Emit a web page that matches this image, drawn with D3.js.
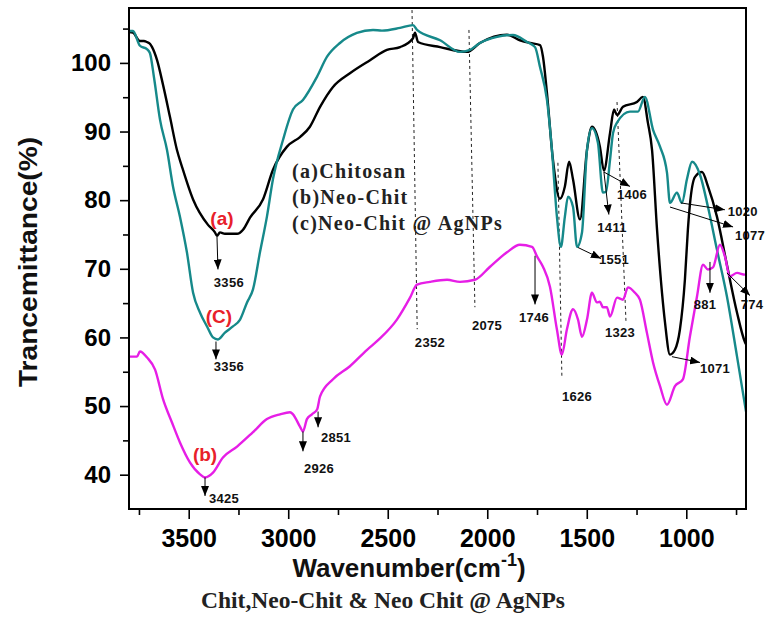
<!DOCTYPE html>
<html>
<head>
<meta charset="utf-8">
<script src="https://cdn.jsdelivr.net/npm/d3@7"></script>
<style>
    body { margin: 0; background: #fff; }
    #ftirChart svg { display: block; }
</style>
</head>
<body>
<div id="ftirChart"></div>
<script>
// (a) Chitosan - black
const chitosanWn = [3800,3780,3745,3725,3710,3695,3684,3659,3629,3594,3559,3534,3478,3403,3368,3358,3343,3318,3257,3227,
    3192,3127,3077,3006,2941,2891,2840,2775,2690,2589,2504,2438,2373,2363,2348,2237,
    2102,2037,1901,1836,1785,1735,1720,1700,1670,1635,1610,1589,1569,1534,1499,1474,1434,1414,1383,1363,
    1348,1318,1248,1218,1193,1172,1147,1122,1107,1082,1057,1032,1007,992,982,956,921,891,846,796,745,705,700];
const chitosanT = [104.5,104.4,103.2,103.2,103.05,102.8,102.3,100.4,96.8,92.1,87.3,84.9,80.1,76.4,75.3,74.8,75.3,75.1,75.1,75.7,
    77.45,80.1,84.4,87.8,89.2,90.7,93.6,96.5,98.5,100.4,101.9,102.3,103.6,104.4,103.05,102.3,
    101.6,102.9,104.1,103.3,102.9,102.6,100.9,95.6,85.9,80.2,82,85.6,83,77.2,87.3,90.7,87.8,84.3,89.8,93.2,
    92.4,93.6,94.3,95.05,91.3,87.3,75.7,66.5,62.2,57.5,58.2,61.15,68.4,75.7,79.3,83.4,84.1,82,77.6,70.6,63.6,59.3,59];

// (b) Neo-Chit - magenta
const neoChitWn = [3800,3760,3745,3710,3669,3629,3584,3544,3494,3443,3418,3378,3328,3257,3177,3107,3041,2991,2976,2941,
    2926,2906,2881,2855,2840,2775,2690,2604,2539,2454,2388,2353,2288,2202,2137,2062,1986,1901,1836,1775,
    1750,1720,1685,1650,1625,1600,1569,1544,1524,1499,1474,1449,1434,1419,1399,1383,1348,1318,1293,1258,
    1233,1198,1167,1132,1097,1057,1017,982,946,916,891,866,831,806,781,745,705,700];
const neoChitT = [57.2,57.2,57.95,57.1,55.3,51,47.6,44.7,41.8,40.05,39.6,40.3,42.5,44.1,46.2,48.1,48.8,49.1,48.8,47,
    46.3,48.1,48.8,49.5,51.4,53.9,55.8,58.2,59.85,62.6,65.8,67.7,68.1,68.4,68.1,68.4,70.3,72.4,73.5,73.2,
    71.8,70.3,67.4,61.15,57.5,61.15,64.1,62.6,60.1,62.6,66.5,65.1,65.2,64.4,64.4,63.05,65.8,65.5,67.3,66.5,
    65.5,60.7,56.35,52.9,50.2,52.9,53.9,60.1,66,70.6,69.9,70.2,73.5,71.8,68.9,69.4,69.15,69.2];

// (c) Neo-Chit @ AgNPs - teal
const neoAgWn = [3800,3780,3745,3710,3695,3674,3644,3609,3579,3544,3509,3478,3443,3408,3378,3353,3318,3278,3242,3207,
    3177,3142,3107,3077,3026,2976,2926,2855,2805,2740,2655,2574,2529,2438,2373,2353,2237,2137,2087,
    2037,1951,1871,1800,1760,1735,1700,1675,1650,1630,1610,1594,1569,1549,1524,1499,1474,1444,1419,1404,
    1383,1368,1348,1283,1243,1208,1167,1132,1097,1082,1047,1022,997,971,931,891,846,796,745,700];
const neoAgT = [104.65,104.65,102.5,102,101.45,97.8,91.7,87.3,82,77.6,72.4,66.5,63.6,61.6,60,59.7,60.7,61.6,62.6,65.1,
    67,72.4,77.6,83,88.8,93.2,94.6,98.0,100.9,102.9,104.36,104.8,104.7,105.1,105.5,104.8,103.3,101.6,101.9,
    102.9,103.8,104.07,103.05,102.3,99.4,94.6,87.3,77.6,73.2,77.6,80.5,79,73.2,75.3,87.3,90.5,88.36,81.1,81.2,
    85.9,89.8,91.3,92.9,92.9,95.05,90.25,87.8,84,79.6,81.1,79.6,83,85.6,83.7,79,72.8,66,57.2,49.2];

const xTicks = [3500, 3000, 2500, 2000, 1500, 1000];
const xMinorTicks = [3750, 3250, 2750, 2250, 1750, 1250, 750];
const yTicks = [40, 50, 60, 70, 80, 90, 100];
const yMinorTicks = [45, 55, 65, 75, 85, 95, 105];

const legendLines = ['(a)Chitosan', '(b)Neo-Chit', '(c)Neo-Chit @ AgNPs'];

// peak arrows: start on the curve, arrow head, label centre
const peakNotes = [
    { label: '3356', from: [3358, 74.7], to: [3353, 69.9], at: [3298, 68.0] },
    { label: '3356', from: [3363, 59.4], to: [3363, 56.8], at: [3298, 55.8] },
    { label: '3425', from: [3418, 39.6], to: [3418, 36.9], at: [3323, 36.6] },
    { label: '2926', from: [2926, 46.3], to: [2926, 43.4], at: [2845, 40.9] },
    { label: '2851', from: [2850, 49.2], to: [2850, 46.9], at: [2760, 45.4] },
    { label: '1746', from: [1760, 71.9], to: [1760, 64.8], at: [1765, 62.9] },
    { label: '1551', from: [1544, 73.1], to: [1429, 71.5], at: [1363, 71.3] },
    { label: '1411', from: [1414, 84.1], to: [1389, 77.9], at: [1373, 76.0] },
    { label: '1406', from: [1414, 84.1], to: [1283, 82.0], at: [1273, 80.8] },
    { label: '1020', from: [1027, 79.6], to: [806, 78.6], at: [716, 78.3] },
    { label: '1077', from: [1082, 79.0], to: [765, 76.1], at: [680, 74.8] },
    { label: '1071', from: [1072, 57.2], to: [931, 56.35], at: [856, 55.5] },
    { label: '881', from: [881, 71.0], to: [881, 66.5], at: [906, 64.8] },
    { label: '774', from: [796, 69.4], to: [680, 66.1], at: [670, 64.8] }
];

// dotted guide lines
const guideNotes = [
    { label: '2352', top: [2378, 107.7], bottom: [2352, 61.2], at: [2288, 59.25] },
    { label: '2075', top: [2092, 104.8], bottom: [2062, 64.4], at: [2001, 61.7] },
    { label: '1626', top: [1645, 85.45], bottom: [1625, 54.2], at: [1549, 51.4] },
    { label: '1323', top: [1348, 94.3], bottom: [1303, 62.3], at: [1333, 60.7] }
];

const curveTags = [
    { label: '(a)', at: [3333, 77.3] },
    { label: '(C)', at: [3348, 63.0] },
    { label: '(b)', at: [3418, 43.0] }
];

class FtirChart {
    constructor() {
        this.width = 766;
        this.height = 619;
        this.left = 129;
        this.right = 746;
        this.top = 8;
        this.bottom = 509;
        this.sansFont = '"Liberation Sans", Arial, sans-serif';
        this.serifFont = '"Liberation Serif", "Times New Roman", serif';

        this.setUpCanvas();
        this.plotGuides();
        this.plotSeries();
        this.plotNotes();
        this.plotAxis();
        this.plotLabels();
    };

    setUpCanvas = () => {
        this.svg = d3.select('#ftirChart')
                    .append('svg')
                    .attr('width', this.width)
                    .attr('height', this.height);

        this.xScale = d3.scaleLinear().domain([3800, 700]).range([this.left, this.right]);
        this.yScale = d3.scaleLinear().domain([35, 108]).range([this.bottom, this.top]);

        this.svg.append('defs').append('marker')
                .attr('id', 'arrowHead')
                .attr('markerUnits', 'userSpaceOnUse')
                .attr('viewBox', '0 0 10 8')
                .attr('refX', 10)
                .attr('refY', 4)
                .attr('markerWidth', 10)
                .attr('markerHeight', 8)
                .attr('orient', 'auto')
                .append('path')
                .attr('d', 'M0,0 L10,4 L0,8 Z')
                .attr('fill', '#000');
    };

    plotGuides = () => {
        this.svg.append('g')
                .selectAll('line')
                .data(guideNotes)
                .enter()
                .append('line')
                .attr('x1', d => this.xScale(d.top[0]))
                .attr('y1', d => this.yScale(d.top[1]))
                .attr('x2', d => this.xScale(d.bottom[0]))
                .attr('y2', d => this.yScale(d.bottom[1]))
                .attr('stroke', '#222')
                .attr('stroke-width', 1)
                .attr('stroke-dasharray', '3,3');
    };

    plotSeries = () => {
        const line = d3.line()
                       .x(d => this.xScale(d[0]))
                       .y(d => this.yScale(d[1]))
                       .curve(d3.curveMonotoneX);

        const series = [
            { wn: chitosanWn, t: chitosanT, color: '#000000' },
            { wn: neoAgWn, t: neoAgT, color: '#16898a' },
            { wn: neoChitWn, t: neoChitT, color: '#e61ee6' }
        ];

        series.forEach(s => {
            this.svg.append('path')
                    .datum(s.wn.map((w, i) => [w, s.t[i]]))
                    .attr('d', line)
                    .attr('fill', 'none')
                    .attr('stroke', s.color)
                    .attr('stroke-width', 2.4)
                    .attr('stroke-linejoin', 'round');
        });
    };

    plotNotes = () => {
        const notes = this.svg.append('g');

        notes.selectAll('line')
             .data(peakNotes)
             .enter()
             .append('line')
             .attr('x1', d => this.xScale(d.from[0]))
             .attr('y1', d => this.yScale(d.from[1]))
             .attr('x2', d => this.xScale(d.to[0]))
             .attr('y2', d => this.yScale(d.to[1]))
             .attr('stroke', '#000')
             .attr('stroke-width', 1)
             .attr('marker-end', 'url(#arrowHead)');

        notes.selectAll('text')
             .data(peakNotes.concat(guideNotes))
             .enter()
             .append('text')
             .text(d => d.label)
             .attr('x', d => this.xScale(d.at[0]))
             .attr('y', d => this.yScale(d.at[1]))
             .attr('dy', '0.35em')
             .attr('text-anchor', 'middle')
             .attr('font-family', this.sansFont)
             .attr('font-weight', 'bold')
             .attr('font-size', 13)
             .attr('letter-spacing', 0.3)
             .attr('fill', '#111');

        this.svg.append('g')
                .selectAll('text')
                .data(curveTags)
                .enter()
                .append('text')
                .text(d => d.label)
                .attr('x', d => this.xScale(d.at[0]))
                .attr('y', d => this.yScale(d.at[1]))
                .attr('dy', '0.35em')
                .attr('text-anchor', 'middle')
                .attr('font-family', this.sansFont)
                .attr('font-weight', 'bold')
                .attr('font-size', 19)
                .attr('fill', '#e8202a');
    };

    plotAxis = () => {
        const xAxis = d3.axisBottom(this.xScale).tickValues(xTicks).tickSize(10).tickPadding(10).tickFormat(d3.format('d'));
        const xMinor = d3.axisBottom(this.xScale).tickValues(xMinorTicks).tickSize(6).tickFormat('');
        const yAxis = d3.axisLeft(this.yScale).tickValues(yTicks).tickSize(9).tickPadding(9);
        const yMinor = d3.axisLeft(this.yScale).tickValues(yMinorTicks).tickSize(6).tickFormat('');

        [xAxis, xMinor].forEach(axis => {
            this.svg.append('g')
                    .attr('class', 'x-axis')
                    .attr('transform', 'translate(0,' + this.bottom + ')')
                    .call(axis);
        });
        [yAxis, yMinor].forEach(axis => {
            this.svg.append('g')
                    .attr('class', 'y-axis')
                    .attr('transform', 'translate(' + this.left + ',0)')
                    .call(axis);
        });

        this.svg.selectAll('.domain').remove();
        this.svg.selectAll('.tick line').attr('stroke', '#000').attr('stroke-width', 1.6);
        this.svg.selectAll('.tick text')
                .attr('font-family', this.sansFont)
                .attr('font-weight', 'bold')
                .attr('font-size', 24)
                .attr('fill', '#000');
        this.svg.selectAll('.x-axis .tick text').attr('font-size', 25);

        this.svg.append('rect')
                .attr('x', this.left)
                .attr('y', this.top)
                .attr('width', this.right - this.left)
                .attr('height', this.bottom - this.top)
                .attr('fill', 'none')
                .attr('stroke', '#000')
                .attr('stroke-width', 2);
    };

    plotLabels = () => {
        const legend = this.svg.append('g')
                               .attr('font-family', this.serifFont)
                               .attr('font-weight', 'bold')
                               .attr('font-size', 20)
                               .attr('letter-spacing', 1.3)
                               .attr('fill', '#222');
        legend.selectAll('text')
              .data(legendLines)
              .enter()
              .append('text')
              .text(d => d)
              .attr('x', 292)
              .attr('y', (d, i) => 178 + i * 26);

        this.svg.append('text')
                .text('Trancemittance(%)')
                .attr('transform', 'translate(37,262) rotate(-90)')
                .attr('text-anchor', 'middle')
                .attr('textLength', 250)
                .attr('lengthAdjust', 'spacingAndGlyphs')
                .attr('font-family', this.sansFont)
                .attr('font-weight', 'bold')
                .attr('font-size', 25)
                .attr('fill', '#111');

        const xLabel = this.svg.append('text')
                               .attr('x', 409)
                               .attr('y', 577)
                               .attr('text-anchor', 'middle')
                               .attr('font-family', this.sansFont)
                               .attr('font-weight', 'bold')
                               .attr('font-size', 26)
                               .attr('fill', '#111');
        xLabel.append('tspan').text('Wavenumber(cm');
        xLabel.append('tspan').text('-1').attr('font-size', 18).attr('dy', -11);
        xLabel.append('tspan').text(')').attr('dy', 11);

        this.svg.append('text')
                .text('Chit,Neo-Chit & Neo Chit @ AgNPs')
                .attr('x', 383)
                .attr('y', 608)
                .attr('text-anchor', 'middle')
                .attr('font-family', this.serifFont)
                .attr('font-weight', 'bold')
                .attr('font-size', 23.5)
                .attr('fill', '#222');
    };
};

new FtirChart();
</script>
</body>
</html>
